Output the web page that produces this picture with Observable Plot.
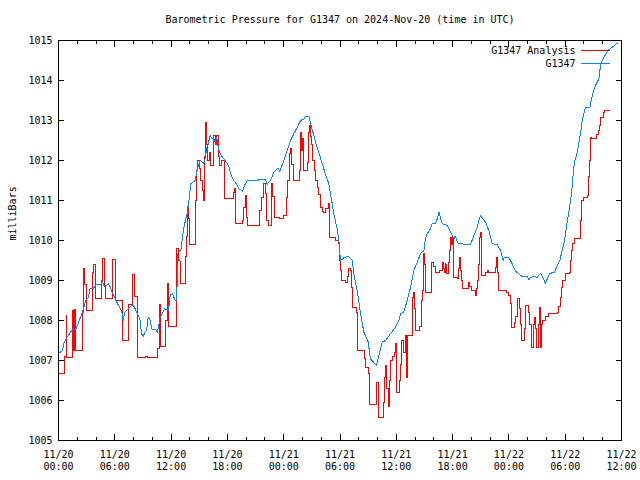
<!DOCTYPE html>
<html><head><meta charset="utf-8">
<script src="https://cdn.jsdelivr.net/npm/d3@7"></script>
<script src="https://cdn.jsdelivr.net/npm/@observablehq/plot@0.6"></script>
<style>body{margin:0;background:#fff} svg{display:block}</style>
</head><body><div id="chart"></div>
<script>
const titleText = "Barometric Pressure for G1347 on 2024-Nov-20 (time in UTC)";
const yLabel = "milliBars";
const seriesNames = ["G1347 Analysis", "G1347"];
const seriesColors = ["#ff0000", "#0a84ff"];
const yTicks = [1005, 1006, 1007, 1008, 1009, 1010, 1011, 1012, 1013, 1014, 1015];
const xMajorTicks = [0, 6, 12, 18, 24, 30, 36, 42, 48, 54, 60];
const xMinorTicks = [2, 4, 8, 10, 14, 16, 20, 22, 26, 28, 32, 34, 38, 40, 44, 46, 50, 52, 56, 58];
const startMonth = 11, startDay = 20;

// hours since 2024-11-20 00:00 UTC
const redHours = [0,0.64,0.8,0.9,1.49,1.6,1.72,1.82,2.56,2.68,2.8,2.95,3.6,3.75,3.95,4.62,4.72,4.9,5.05,5.72,6.1,6.85,7.5,7.85,8.1,8.45,9.3,9.45,
10.0,10.6,10.72,10.85,11.45,11.62,11.75,12.6,12.78,12.95,13.05,13.5,13.62,13.75,13.85,13.95,14.55,14.72,14.85,14.98,15.18,15.33,15.47,15.6,15.7,15.8,15.92,16.05,16.2,16.5,16.7,16.87,17.05,17.2,17.4,17.65,
18.6,18.72,18.85,19.6,19.75,19.9,20.05,20.15,21.4,21.65,21.85,22.05,22.2,22.4,22.65,22.85,23.0,23.5,24.0,24.3,24.45,24.6,24.72,24.85,25.05,25.65,25.8,25.9,25.97,26.08,26.15,26.55,26.65,26.78,26.9,27.0,27.12,27.28,27.4,27.57,27.75,27.92,28.1,28.28,28.5,28.8,28.92,29.5,29.88,29.97,30.05,30.15,30.6,30.8,30.95,31.15,31.2,31.3,31.75,31.9,32.6,32.72,33.0,33.1,33.18,33.85,34.1,34.65,34.75,34.87,35.0,35.15,35.28,35.4,35.6,35.8,35.92,36.0,36.35,36.45,36.6,36.8,36.95,37.05,37.15,37.22,
37.5,37.72,37.8,37.9,38.0,38.5,38.68,38.76,38.85,38.94,39.02,39.1,39.74,39.95,40.15,40.6,40.88,41.0,41.12,41.2,41.3,41.6,41.72,41.8,41.9,41.98,42.06,42.55,42.66,42.76,42.85,42.94,43.02,43.7,43.85,44.05,44.4,44.55,44.65,44.75,44.82,44.9,44.98,45.05,45.12,45.5,45.7,45.85,46.2,46.6,46.72,46.82,46.92,
47.75,48.0,48.15,48.28,48.6,48.75,48.9,49.1,49.25,49.35,49.62,49.72,50.05,50.2,50.4,50.62,50.75,50.85,50.95,51.15,51.3,51.4,51.5,51.6,51.85,52.2,53.15,53.3,53.55,53.65,53.75,54.0,54.5,54.6,54.7,54.82,54.95,55.65,55.78,55.9,56.35,56.45,56.55,56.65,56.8,57.3,57.55,57.68,57.78,58.1,58.2,58.7];
const redValues = [1006.67,1007.1,1008.12,1007.07,1008.25,1007.25,1008.27,1007.25,1008.2,1009.29,1008.9,1008.25,1009.2,1009.4,1008.54,1009.0,1009.55,1008.85,1008.54,1009.52,1008.5,1007.5,1008.4,1009.15,1008.6,1007.07,1007.1,1007.07,
1007.07,1007.3,1008.4,1007.35,1008.0,1008.92,1007.85,1009.8,1009.5,1009.0,1008.92,1009.6,1010.1,1010.85,1010.55,1009.9,1011.0,1011.75,1012.0,1011.8,1011.5,1011.25,1011.0,1012.1,1012.96,1012.4,1012.0,1012.2,1011.875,1012.625,1012.4,1012.625,1012.1,1011.875,1012.0,1011.04,
1011.2,1011.3,1010.42,1010.5,1010.83,1011.12,1010.58,1010.375,1010.75,1011.08,1011.42,1011.17,1010.5,1010.375,1011.42,1011.1,1010.58,1010.55,1010.62,1011.08,1011.5,1012.17,1012.3,1011.9,1011.5,1011.75,1012.7,1012.25,1012.55,1012.25,1011.75,1011.95,1012.7,1012.88,1012.6,1012.4,1012.0,1011.75,1011.5,1011.33,1011.15,1010.83,1010.72,1010.7,1010.8,1010.92,1010.08,1010.0,1009.92,1009.5,1009.25,1009.0,1008.95,1009.1,1009.3,1009.25,1008.83,1008.33,1008.2,1007.25,1007.05,1006.83,1006.67,1006.1,1005.9,1006.46,1005.58,1005.95,1006.58,1006.875,1006.3,1005.85,1006.5,1007.0,1007.1,1007.2,1007.42,1006.2,1006.5,1006.9,1007.5,1007.2,1007.625,1006.58,1007.2,1007.625,
1007.625,1008.58,1008.71,1008.3,1007.75,1007.85,1008.5,1008.75,1009.33,1009.67,1009.4,1008.71,1009.46,1009.35,1009.21,1009.25,1009.46,1009.3,1009.2,1009.42,1009.17,1009.45,1009.75,1010.08,1009.9,1010.08,1009.08,1009.04,1009.29,1009.58,1009.25,1009.0,1008.79,1008.96,1008.85,1008.75,1008.625,1008.8,1009.0,1009.4,1009.75,1010.08,1010.21,1009.75,1009.125,1009.2,1009.25,1009.2,1009.2,1009.33,1009.58,1009.2,1008.75,
1008.7,1008.625,1008.42,1007.83,1007.95,1008.1,1008.54,1008.3,1007.9,1007.5,1007.8,1008.375,1008.2,1007.9,1007.33,1007.9,1008.08,1007.8,1007.33,1007.9,1008.33,1007.33,1007.9,1008.0,1008.1,1008.17,1008.2,1008.35,1008.58,1008.83,1009.0,1009.17,1009.2,1009.5,1009.75,1009.92,1010.04,1010.5,1011.0,1011.08,1011.125,1011.6,1012.0,1012.58,1012.55,1012.65,1012.75,1012.875,1013.07,1013.2,1013.25,1013.25];

const blueHours = [0,0.43,0.57,0.85,1.21,1.49,1.85,2.1,2.34,2.63,2.91,3.2,3.34,3.69,4.05,4.51,4.65,4.83,5.12,5.29,5.54,5.75,6.0,6.29,6.54,6.75,6.89,7.07,7.25,7.67,7.96,8.17,8.31,8.49,8.67,8.85,9.02,9.2,9.38,9.56,9.73,9.95,
10.37,10.55,10.84,11.1,11.3,11.72,11.9,12.15,12.43,12.61,12.68,13.07,13.22,13.36,13.71,13.93,14.1,14.57,14.74,14.92,15.1,15.45,15.63,15.81,15.92,16.16,16.34,16.52,16.7,16.87,17.05,17.23,17.48,17.76,18.12,18.3,18.65,18.83,19.25,19.61,19.82,20.11,22.06,22.24,22.38,22.59,22.95,23.38,23.59,
24.02,24.37,24.73,25.08,25.44,25.79,26.15,26.32,26.68,26.93,27.39,27.85,28.1,28.56,28.81,29.17,29.34,29.7,29.88,30.05,30.48,30.94,31.3,31.47,31.83,32.19,32.54,32.97,33.25,33.89,34.14,34.49,34.85,35.38,35.92,
36.27,36.45,36.8,37.16,37.52,37.87,38.23,38.58,38.94,39.11,39.29,39.65,39.82,40.18,40.36,40.54,40.89,41.42,41.78,42.13,42.25,42.4,42.6,43.91,44.27,44.62,44.8,44.98,45.2,45.51,45.86,46.22,46.75,47.11,47.39,47.5,47.99,
48.35,48.7,49.42,49.95,50.13,50.3,50.66,51.01,51.37,51.72,51.9,52.15,52.36,52.86,53.07,53.43,53.68,53.86,54.03,54.21,54.39,54.57,54.74,54.85,54.99,55.2,55.38,55.56,55.7,55.81,55.99,56.16,56.63,56.77,56.98,57.23,57.59,57.69,57.83,57.94,58.3,58.65,59.01,59.36,59.54];
const blueValues = [1007.18,1007.25,1007.42,1007.57,1007.68,1007.78,1007.79,1007.92,1008.08,1008.27,1008.5,1008.58,1008.79,1008.8,1008.9,1008.9,1008.98,1008.88,1008.88,1008.92,1008.83,1008.68,1008.58,1008.42,1008.33,1008.21,1008.0,1008.21,1008.25,1008.35,1008.39,1008.29,1008.21,1008.12,1008.04,1007.67,1007.6,1007.7,1007.75,1008.08,1008.04,1007.79,
1007.77,1007.71,1008.08,1008.2,1008.29,1008.25,1008.625,1008.68,1008.5,1008.5,1009.67,1009.79,1010.125,1010.33,1010.67,1011.04,1011.42,1011.5,1011.71,1011.875,1012.0,1011.92,1012.04,1012.33,1012.375,1012.625,1012.54,1012.58,1012.46,1012.58,1012.29,1012.18,1012.08,1012.0,1011.875,1011.71,1011.5,1011.46,1011.29,1011.23,1011.375,1011.5,1011.52,1011.4,1011.45,1011.5,1011.71,1011.81,1011.73,
1012.0,1012.25,1012.5,1012.67,1012.83,1013.0,1013.04,1013.1,1013.1,1012.875,1012.46,1012.12,1011.92,1011.58,1011.42,1010.92,1010.67,1010.29,1010.0,1009.5,1009.58,1009.6,1009.5,1009.17,1008.75,1008.17,1007.71,1007.5,1007.04,1006.875,1007.125,1007.46,1007.5,1007.67,1007.83,
1008.0,1008.17,1008.21,1008.5,1008.83,1009.25,1009.46,1009.67,1009.75,1010.04,1010.17,1010.29,1010.42,1010.42,1010.54,1010.71,1010.42,1010.38,1010.21,1010.04,1010.1,1010.04,1009.92,1009.9,1010.125,1010.33,1010.5,1010.625,1010.55,1010.46,1010.25,1009.92,1009.9,1009.75,1009.5,1009.58,1009.58,
1009.42,1009.23,1009.1,1009.1,1009.02,1009.08,1009.1,1009.08,1009.18,1009.02,1008.92,1009.08,1009.18,1009.2,1009.33,1009.5,1009.75,1009.92,1010.17,1010.46,1010.71,1011.0,1011.33,1011.67,1011.96,1012.125,1012.33,1012.58,1012.79,1013.0,1013.17,1013.32,1013.33,1013.5,1013.71,1013.875,1014.04,1014.25,1014.42,1014.5,1014.65,1014.77,1014.83,1014.9,1014.93];

const red = redHours.map((h, i) => ({h, v: redValues[i]}));
const blue = blueHours.map((h, i) => ({h, v: blueValues[i]}));

const pad = n => String(n).padStart(2, "0");
const xFmt = h => `${pad(startMonth)}/${pad(startDay + Math.floor(h / 24))}\n${pad(h % 24)}:00`;
const font = "'DejaVu Sans Mono', monospace";
const blank = () => "";

const chart = Plot.plot({
  width: 640, height: 480,
  marginLeft: 58, marginRight: 19, marginTop: 40, marginBottom: 40,
  style: {fontFamily: font, fontSize: "10px", background: "#fff", color: "#000"},
  x: {domain: [0, 60]},
  y: {domain: [1005, 1015]},
  marks: [
    Plot.axisY({ticks: yTicks, tickSize: 0, tickPadding: 6, tickFormat: d => String(d), label: null}),
    Plot.axisY({ticks: yTicks, anchor: "left", tickSize: 6, dx: 6, tickFormat: blank, label: null, shapeRendering: "crispEdges"}),
    Plot.axisY({ticks: yTicks, anchor: "right", tickSize: 6, dx: -6, tickFormat: blank, label: null, shapeRendering: "crispEdges"}),
    Plot.axisX({ticks: xMajorTicks, anchor: "bottom", tickSize: 0, tickPadding: 9, tickFormat: xFmt, lineHeight: 1.2, label: null}),
    Plot.axisX({ticks: xMajorTicks, anchor: "bottom", tickSize: 6, dy: -6, tickFormat: blank, label: null, shapeRendering: "crispEdges"}),
    Plot.axisX({ticks: xMinorTicks, anchor: "bottom", tickSize: 3, dy: -3, tickFormat: blank, label: null, shapeRendering: "crispEdges"}),
    Plot.axisX({ticks: xMajorTicks, anchor: "top", tickSize: 6, dy: 6, tickFormat: blank, label: null, shapeRendering: "crispEdges"}),
    Plot.axisX({ticks: xMinorTicks, anchor: "top", tickSize: 3, dy: 3, tickFormat: blank, label: null, shapeRendering: "crispEdges"}),
    Plot.line(red, {x: "h", y: "v", stroke: seriesColors[0], strokeWidth: 1, curve: "step-after", shapeRendering: "crispEdges"}),
    Plot.line(blue, {x: "h", y: "v", stroke: seriesColors[1], strokeWidth: 1, shapeRendering: "crispEdges"}),
    Plot.frame({stroke: "#000", shapeRendering: "crispEdges"}),
    Plot.text([titleText], {frameAnchor: "top", dy: -21, lineAnchor: "middle"}),
    Plot.text([yLabel], {frameAnchor: "left", dx: -46, rotate: -90, lineAnchor: "middle"}),
    Plot.text([seriesNames[0]], {frameAnchor: "top-right", dx: -46, dy: 10, textAnchor: "end", lineAnchor: "middle"}),
    Plot.text([seriesNames[1]], {frameAnchor: "top-right", dx: -46, dy: 23, textAnchor: "end", lineAnchor: "middle"})
  ]
});

// legend swatches
const sw = d3.select(chart);
[0, 1].forEach(i => {
  const yy = 40 + 10 + i * 13 + 0.5;
  sw.append("line").attr("x1", 621 - 40).attr("x2", 621 - 11).attr("y1", yy).attr("y2", yy)
    .attr("stroke", seriesColors[i]).attr("stroke-width", 1).attr("shape-rendering", "crispEdges");
});

document.getElementById("chart").appendChild(chart);
</script>
</body></html>
